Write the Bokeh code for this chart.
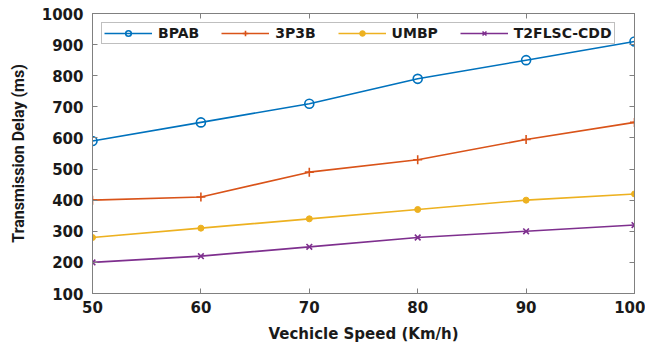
from bokeh.plotting import figure
from bokeh.models import Range1d, FixedTicker, LinearAxis, Legend, LegendItem
from bokeh.embed import file_html
from bokeh.resources import INLINE

speed = [50, 60, 70, 80, 90, 100]
bpab = [590, 650, 710, 790, 850, 910]
p3p3b = [400, 410, 490, 530, 595, 650]
umbp = [280, 310, 340, 370, 400, 420]
t2flsc = [200, 220, 250, 280, 300, 320]
x_ticks = [50, 60, 70, 80, 90, 100]
y_ticks = [100, 200, 300, 400, 500, 600, 700, 800, 900, 1000]

FONT = "DejaVu Sans"
FRAME = "#808080"

p = figure(width=645, height=345, output_backend="svg", toolbar_location=None,
           x_range=Range1d(50, 100), y_range=Range1d(100, 1000),
           min_border_left=92, min_border_right=11, min_border_top=13, min_border_bottom=52)
p.xgrid.visible = False
p.ygrid.visible = False
p.outline_line_color = FRAME
p.outline_line_width = 1

for ax in (p.xaxis[0], p.yaxis[0]):
    ax.axis_line_color = FRAME
    ax.major_tick_line_color = FRAME
    ax.major_tick_in = 5
    ax.major_tick_out = 0
    ax.minor_tick_line_color = None
    ax.major_label_text_font = FONT
    ax.major_label_text_font_style = "bold"
    ax.major_label_text_font_size = "15px"
    ax.major_label_text_color = "#1a1a1a"
    ax.axis_label_text_font_style = "bold"
    ax.axis_label_text_color = "#1a1a1a"

p.xaxis[0].ticker = FixedTicker(ticks=x_ticks)
p.yaxis[0].ticker = FixedTicker(ticks=y_ticks)
p.xaxis[0].axis_label = "Vechicle Speed (Km/h)"
p.yaxis[0].axis_label = "Transmission Delay (ms)"
p.xaxis[0].axis_label_text_font = FONT
p.xaxis[0].axis_label_text_font_size = "15px"
p.yaxis[0].axis_label_text_font = "Roboto"
p.yaxis[0].axis_label_text_font_size = "16px"
p.xaxis[0].major_label_standoff = 7
p.yaxis[0].major_label_standoff = 9
p.xaxis[0].axis_label_standoff = 9
p.yaxis[0].axis_label_standoff = 11

top_ax = LinearAxis(ticker=FixedTicker(ticks=x_ticks))
right_ax = LinearAxis(ticker=FixedTicker(ticks=y_ticks))
for ax, ticks in ((top_ax, x_ticks), (right_ax, y_ticks)):
    ax.axis_line_color = FRAME
    ax.major_tick_line_color = FRAME
    ax.major_tick_in = 5
    ax.major_tick_out = 0
    ax.minor_tick_line_color = None
    ax.major_label_overrides = {t: "" for t in ticks}
    ax.major_label_standoff = 0
p.add_layout(top_ax, "above")
p.add_layout(right_ax, "right")

c1, c2, c3, c4 = "#0072BD", "#D95319", "#EDB120", "#7E2F8E"
lw = 1.6
r1 = p.line(speed, bpab, color=c1, line_width=lw)
m1 = p.scatter(speed, bpab, marker="circle", size=9, line_color=c1, fill_color=None, line_width=1.6)
r2 = p.line(speed, p3p3b, color=c2, line_width=lw)
m2 = p.scatter(speed, p3p3b, marker="cross", size=9, line_color=c2, line_width=1.6)
r3 = p.line(speed, umbp, color=c3, line_width=lw)
m3 = p.scatter(speed, umbp, marker="circle", size=6, line_color=c3, fill_color=c3)
r4 = p.line(speed, t2flsc, color=c4, line_width=lw)
m4 = p.scatter(speed, t2flsc, marker="x", size=8, line_color=c4, line_width=1.6)

legend = Legend(items=[
    LegendItem(label="BPAB", renderers=[r1, m1]),
    LegendItem(label="3P3B", renderers=[r2, m2]),
    LegendItem(label="UMBP", renderers=[r3, m3]),
    LegendItem(label="T2FLSC-CDD", renderers=[r4, m4]),
], orientation="horizontal", location="top_left")
legend.margin = 9
legend.padding = 2
legend.spacing = 22
legend.glyph_width = 48
legend.glyph_height = 14
legend.label_height = 14
legend.label_standoff = 6
legend.label_text_font = FONT
legend.label_text_font_style = "bold"
legend.label_text_font_size = "14px"
legend.label_text_color = "#1a1a1a"
legend.border_line_color = FRAME
legend.border_line_width = 1
legend.background_fill_color = "white"
legend.background_fill_alpha = 1
p.add_layout(legend, "center")

open("out.html", "w").write(file_html(p, INLINE))
